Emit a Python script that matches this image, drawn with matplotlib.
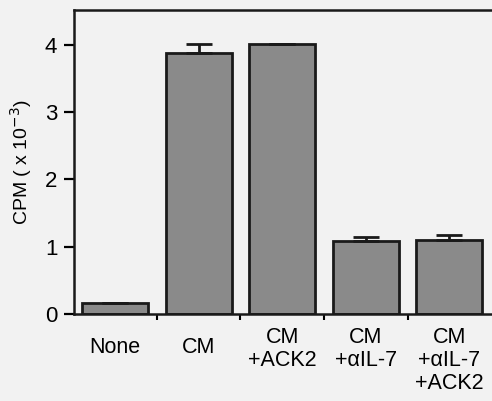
import matplotlib
matplotlib.use('Agg')
import matplotlib.pyplot as plt

# data
groups = ['None', 'CM', 'CM\n+ACK2', 'CM\n+\u03b1IL-7', 'CM\n+\u03b1IL-7\n+ACK2']
cpm = [0.16, 3.88, 4.01, 1.085, 1.10]
err = [0.01, 0.14, 0.01, 0.06, 0.08]

plt.rcParams['font.family'] = ['Liberation Sans', 'DejaVu Sans']

fig = plt.figure(figsize=(4.92, 4.01), dpi=100)
fig.patch.set_facecolor('#f2f2f2')
ax = fig.add_axes([0.1504, 0.217, 0.8496, 0.758])
ax.set_facecolor('#f2f2f2')

x = range(len(groups))
ax.bar(x, cpm, width=0.79, color='#8a8a8a', edgecolor='#1a1a1a', linewidth=2,
       zorder=2)
ax.errorbar(x, cpm, yerr=[[0] * len(err), err], fmt='none', ecolor='#1a1a1a',
            elinewidth=2, capsize=9.5, capthick=2, zorder=3)

ax.set_xlim(-0.49, 4.51)
ax.set_ylim(0, 4.52)
ax.set_yticks([0, 1, 2, 3, 4])
ax.set_xticks([0.5, 1.5, 2.5, 3.5])
ax.set_xticklabels([])
ax.tick_params(axis='x', direction='out', length=4, width=1.5)
ax.tick_params(axis='y', direction='out', length=7, width=1.6, labelsize=16,
               pad=5)

# category labels under bars
for i, g in enumerate(groups):
    dy = -16.5 if '\n' not in g else -9.5
    ax.annotate(g, xy=(i, 0), xycoords='data', xytext=(0, dy),
                textcoords='offset points', ha='center', va='top',
                fontsize=15.5, linespacing=1.12)

ax.set_ylabel('CPM ( x 10$^{-3}$)', fontsize=14, labelpad=8)

for s in ['left', 'bottom', 'top']:
    ax.spines[s].set_linewidth(1.8)
    ax.spines[s].set_color('#1a1a1a')
ax.spines['right'].set_visible(False)

fig.savefig('out.png', dpi=100, facecolor=fig.get_facecolor())
